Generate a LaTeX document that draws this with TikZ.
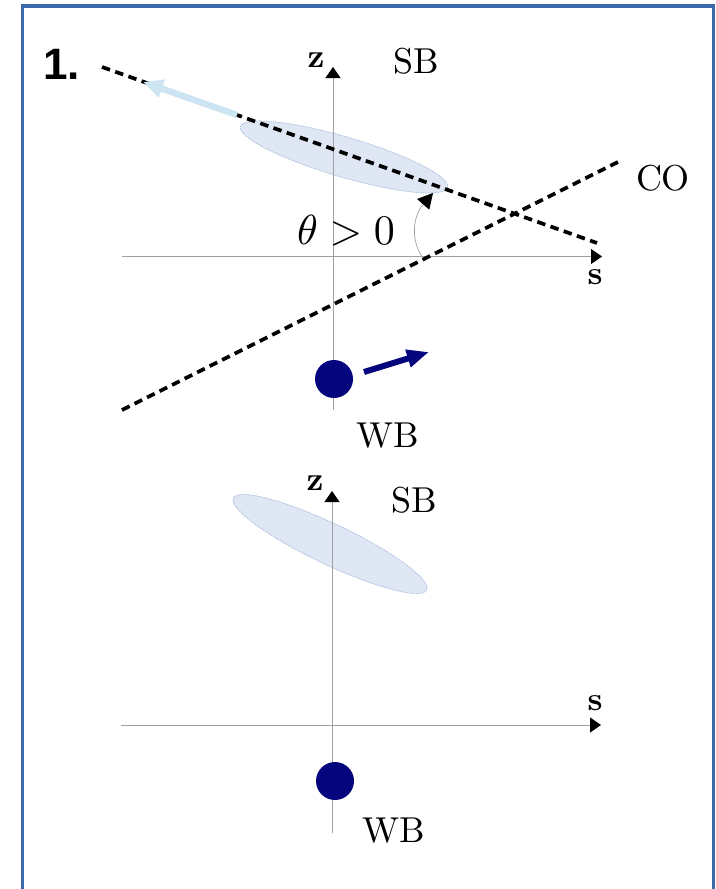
\documentclass[tikz,border=0pt]{standalone}
\usepackage{fontspec}
\newfontfamily\headfont{Liberation Sans}
\usetikzlibrary{arrows.meta}
\definecolor{framecol}{RGB}{58,106,170}
\definecolor{axisgray}{RGB}{160,160,160}
\definecolor{sbfill}{RGB}{223,231,244}
\definecolor{sbedge}{RGB}{175,195,225}
\definecolor{lightarrow}{RGB}{205,228,243}
\definecolor{wbnavy}{RGB}{5,5,125}
\tikzset{
  frame/.style={draw=framecol, line width=3.8pt},
  axisline/.style={draw=axisgray, line width=0.9pt, -{Triangle[length=11pt,width=15pt,color=black]}},
  bunch/.style={fill=sbfill, draw=sbedge, line width=0.5pt, dash pattern=on 1.5pt off 1pt},
  orbit/.style={draw=black, line width=3.7pt, dash pattern=on 8.5pt off 5.5pt},
  lbl/.style={anchor=base, inner sep=0pt, font=\fontsize{10}{12}\selectfont, scale=3.6},
  axlbl/.style={anchor=base, inner sep=0pt, font=\bfseries\fontsize{10}{12}\selectfont, scale=3.3},
  wbdot/.style={circle, fill=wbnavy, minimum size=38pt, inner sep=0pt},
}
\begin{document}
\begin{tikzpicture}[x=1pt,y=-1pt]
\useasboundingbox (0,0) rectangle (715,889);
\clip (0,0) rectangle (715,889);
\fill[white] (0,0) rectangle (715,889);
\draw[frame] (22.5,6.3) rectangle (713.5,910);

\node[anchor=base west, inner sep=0pt, font=\headfont\bfseries\fontsize{44}{48}\selectfont] (num) at (43,79) {1.};

% ---------- upper panel ----------
\fill[bunch, rotate around={-16.4:(344,157)}] (344,157) ellipse [x radius=108, y radius=20];
\draw[bunch, fill=none, rotate around={-16.4:(344,157)}] (344,157) ellipse [x radius=108, y radius=20];

\coordinate (zb1) at (333,410);
\coordinate (zt1) at (333,67);
\coordinate (sl1) at (122,256.5);
\coordinate (sr1) at (602,256.5);
\draw[axisline] (zb1) -- (zt1);
\draw[axisline] (sl1) -- (sr1);

\coordinate (sbA) at (102,67);
\coordinate (sbB) at (597,243);
\draw[orbit] (sbA) -- (sbB);
\coordinate (coA) at (122,410);
\coordinate (coB) at (618,162);
\draw[orbit] (coA) -- (coB);

\coordinate (bt1) at (237,115);
\coordinate (bh1) at (143,82);
\draw[lightarrow, line width=6.5pt, -{Triangle[length=20pt,width=18pt]}] (bt1) -- (bh1);

\coordinate (th0) at (423,258);
\coordinate (th1) at (433,193);
\draw[axisgray, line width=0.7pt, -{Triangle[length=15pt,width=16pt,color=black]}] (th0) .. controls (410,240) and (413,216) .. (th1);

\node[wbdot] (wb1) at (334,379) {};
\coordinate (wa0) at (364,372);
\coordinate (wa1) at (429,352);
\draw[wbnavy, line width=6pt, -{Triangle[length=22pt,width=17pt]}] (wa0) -- (wa1);

\node[axlbl] (z1) at (316,67) {z};
\node[axlbl] (s1) at (595,284) {s};
\node[lbl] (sblab1) at (416,73) {SB};
\node[lbl] (colab) at (663,190) {CO};
\node[lbl] (wblab1) at (388,447) {WB};
\node[anchor=base, inner sep=0pt, scale=4.2] (theta) at (346,244) {$\theta>0$};

% ---------- lower panel ----------
\fill[bunch, rotate around={-25.4:(330,544)}] (330,544) ellipse [x radius=107, y radius=20.4];
\draw[bunch, fill=none, rotate around={-25.4:(330,544)}] (330,544) ellipse [x radius=107, y radius=20.4];

\coordinate (zb2) at (332,833);
\coordinate (zt2) at (332,491);
\coordinate (sl2) at (121,725);
\coordinate (sr2) at (601,725);
\draw[axisline] (zb2) -- (zt2);
\draw[axisline] (sl2) -- (sr2);

\node[wbdot] (wb2) at (335,781) {};

\node[axlbl] (z2) at (315,490) {z};
\node[axlbl] (s2) at (595,710) {s};
\node[lbl] (sblab2) at (414,512) {SB};
\node[lbl] (wblab2) at (394,842) {WB};
\end{tikzpicture}
\end{document}
